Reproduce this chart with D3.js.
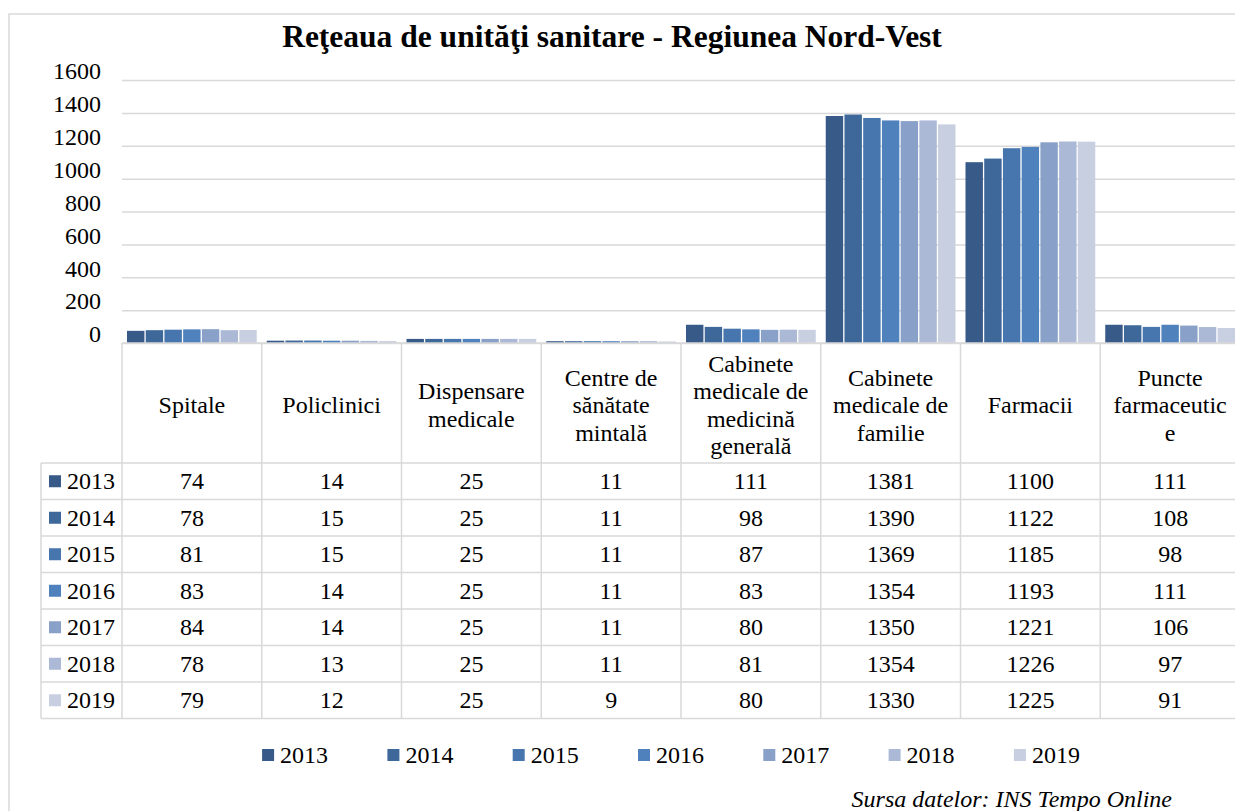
<!DOCTYPE html>
<html>
<head>
<meta charset="utf-8">
<script src="https://cdn.jsdelivr.net/npm/d3@7"></script>
<style>
  body { margin: 0; background: #fff; }
  text { font-family: "Liberation Serif", "Times New Roman", "DejaVu Serif", serif; fill: #000; }
</style>
</head>
<body>
<div id="container"></div>
<script>
// window size
let cwW = 1235;
let cwH = 811;

// data
const years = ["2013", "2014", "2015", "2016", "2017", "2018", "2019"];
const categories = ["Spitale", "Policlinici", "Dispensare medicale", "Centre de sănătate mintală",
  "Cabinete medicale de medicină generală", "Cabinete medicale de familie", "Farmacii", "Puncte farmaceutice"];
const categoryLines = [["Spitale"], ["Policlinici"], ["Dispensare", "medicale"], ["Centre de", "sănătate", "mintală"],
  ["Cabinete", "medicale de", "medicină", "generală"], ["Cabinete", "medicale de", "familie"], ["Farmacii"],
  ["Puncte", "farmaceutic", "e"]];
const v2013 = [74, 14, 25, 11, 111, 1381, 1100, 111];
const v2014 = [78, 15, 25, 11, 98, 1390, 1122, 108];
const v2015 = [81, 15, 25, 11, 87, 1369, 1185, 98];
const v2016 = [83, 14, 25, 11, 83, 1354, 1193, 111];
const v2017 = [84, 14, 25, 11, 80, 1350, 1221, 106];
const v2018 = [78, 13, 25, 11, 81, 1354, 1226, 97];
const v2019 = [79, 12, 25, 9, 80, 1330, 1225, 91];
const yTicks = [0, 200, 400, 600, 800, 1000, 1200, 1400, 1600];
const colors = ["#375a88", "#3e6899", "#4676ad", "#4f81bd", "#89a1c8", "#abb9d6", "#c7cfe1"];

const series = [v2013, v2014, v2015, v2016, v2017, v2018, v2019];

// layout
const plotL = 122, plotR = 1240;
const rowH = 36.5;
const tableTop = 463;
const tableL = 41;
const gridColor = "#d9d9d9";

let svgArea = d3.select("#container")
  .append("svg")
  .attr("width", cwW)
  .attr("height", cwH);

/**************************
* Scales
**************************/
let x = d3.scaleBand().domain(categories).range([plotL, plotR]);
let x1 = d3.scaleBand().domain(years).range([5, x.bandwidth() - 5]).paddingInner(0.07);
let y = d3.scaleLinear().domain([0, 1600]).range([343, 80]);
let color = d3.scaleOrdinal().domain(years).range(colors);
let row = d3.scaleBand().domain(years).range([tableTop, tableTop + rowH * years.length]);

/**************************
* Frame + title
**************************/
svgArea.append("path")
  .attr("d", "M9," + cwH + "V14H" + cwW)
  .attr("fill", "none")
  .attr("stroke", gridColor)
  .attr("stroke-width", 1.5);

svgArea.append("text")
  .attr("x", 612)
  .attr("y", 47)
  .attr("text-anchor", "middle")
  .attr("font-size", 31.5)
  .attr("font-weight", "bold")
  .text("Reţeaua de unităţi sanitare - Regiunea Nord-Vest");

/**************************
* Y axis + gridlines
**************************/
let yAxis = svgArea.append("g")
  .attr("transform", "translate(" + plotL + ",0)")
  .call(d3.axisLeft(y).tickValues(yTicks).tickFormat(d3.format("d"))
    .tickSize(-(plotR - plotL)).tickPadding(21));

yAxis.select(".domain").remove();
yAxis.selectAll(".tick line")
  .attr("stroke", gridColor)
  .attr("stroke-width", 1.5);
yAxis.selectAll(".tick text")
  .attr("font-size", 24)
  .attr("dy", "-0.05em");

/**************************
* Bars
**************************/
let groups = svgArea.append("g")
  .attr("id", "bars")
  .selectAll("g")
  .data(series)
  .enter()
  .append("g")
  .attr("fill", function(d, i) { return color(years[i]); });

groups.selectAll("rect")
  .data(function(d, i) { return d.map(function(v, j) { return {year: years[i], cat: categories[j], value: v}; }); })
  .enter()
  .append("rect")
  .attr("x", function(d) { return x(d.cat) + x1(d.year); })
  .attr("width", x1.bandwidth())
  .attr("y", function(d) { return y(d.value); })
  .attr("height", function(d) { return y(0) - y(d.value); });

/**************************
* Data table
**************************/
let table = svgArea.append("g").attr("id", "table");
let tableBottom = tableTop + rowH * years.length;

// horizontal lines
table.selectAll("line.h")
  .data(years.concat(["end"]))
  .enter()
  .append("line")
  .attr("x1", tableL)
  .attr("x2", plotR)
  .attr("y1", function(d, i) { return tableTop + i * rowH; })
  .attr("y2", function(d, i) { return tableTop + i * rowH; })
  .attr("stroke", gridColor)
  .attr("stroke-width", 1.5);

// vertical lines
table.selectAll("line.v")
  .data(categories)
  .enter()
  .append("line")
  .attr("x1", function(d) { return x(d); })
  .attr("x2", function(d) { return x(d); })
  .attr("y1", y(0))
  .attr("y2", tableBottom)
  .attr("stroke", gridColor)
  .attr("stroke-width", 1.5);

table.append("line")
  .attr("x1", tableL).attr("x2", tableL)
  .attr("y1", tableTop).attr("y2", tableBottom)
  .attr("stroke", gridColor)
  .attr("stroke-width", 1.5);

// axis line
svgArea.append("line")
  .attr("x1", plotL).attr("x2", plotR)
  .attr("y1", y(0)).attr("y2", y(0))
  .attr("stroke", gridColor)
  .attr("stroke-width", 1.5);

// header labels
table.selectAll("text.cat")
  .data(categoryLines)
  .enter()
  .append("text")
  .attr("class", "cat")
  .attr("font-size", 24)
  .attr("text-anchor", "middle")
  .each(function(lines, i) {
    let cx = x(categories[i]) + x.bandwidth() / 2;
    let top = 405 - (lines.length - 1) * 27.5 / 2;
    d3.select(this).selectAll("tspan")
      .data(lines)
      .enter()
      .append("tspan")
      .attr("x", cx)
      .attr("y", function(d, k) { return top + k * 27.5 + 8; })
      .text(function(d) { return d; });
  });

// row labels
let rows = table.selectAll("g.row")
  .data(series)
  .enter()
  .append("g")
  .attr("class", "row");

rows.append("rect")
  .attr("x", 49)
  .attr("y", function(d, i) { return row(years[i]) + rowH / 2 - 6; })
  .attr("width", 12)
  .attr("height", 12)
  .attr("fill", function(d, i) { return color(years[i]); });

rows.append("text")
  .attr("x", 67)
  .attr("y", function(d, i) { return row(years[i]) + rowH / 2 + 8; })
  .attr("font-size", 24)
  .text(function(d, i) { return years[i]; });

rows.selectAll("text.val")
  .data(function(d, i) { return d.map(function(v, j) { return {year: years[i], cat: categories[j], value: v}; }); })
  .enter()
  .append("text")
  .attr("class", "val")
  .attr("x", function(d) { return x(d.cat) + x.bandwidth() / 2; })
  .attr("y", function(d) { return row(d.year) + rowH / 2 + 8; })
  .attr("text-anchor", "middle")
  .attr("font-size", 24)
  .text(function(d) { return d.value; });

/**************************
* Legend
**************************/
const legStep = 125.3;
let legStart = 670.5 - (legStep * (years.length - 1) + 65) / 2;

let legend = svgArea.append("g")
  .attr("id", "legend")
  .selectAll("g")
  .data(years)
  .enter()
  .append("g")
  .attr("transform", function(d, i) { return "translate(" + (legStart + i * legStep) + ",755)"; });

legend.append("rect")
  .attr("x", 0)
  .attr("y", -6)
  .attr("width", 12)
  .attr("height", 12)
  .attr("fill", function(d) { return color(d); });

legend.append("text")
  .attr("x", 18)
  .attr("y", 8)
  .attr("font-size", 24)
  .text(function(d) { return d; });

// source
svgArea.append("text")
  .attr("x", 1172)
  .attr("y", 807)
  .attr("text-anchor", "end")
  .attr("font-size", 24)
  .attr("font-style", "italic")
  .text("Sursa datelor: INS Tempo Online");
</script>
</body>
</html>
